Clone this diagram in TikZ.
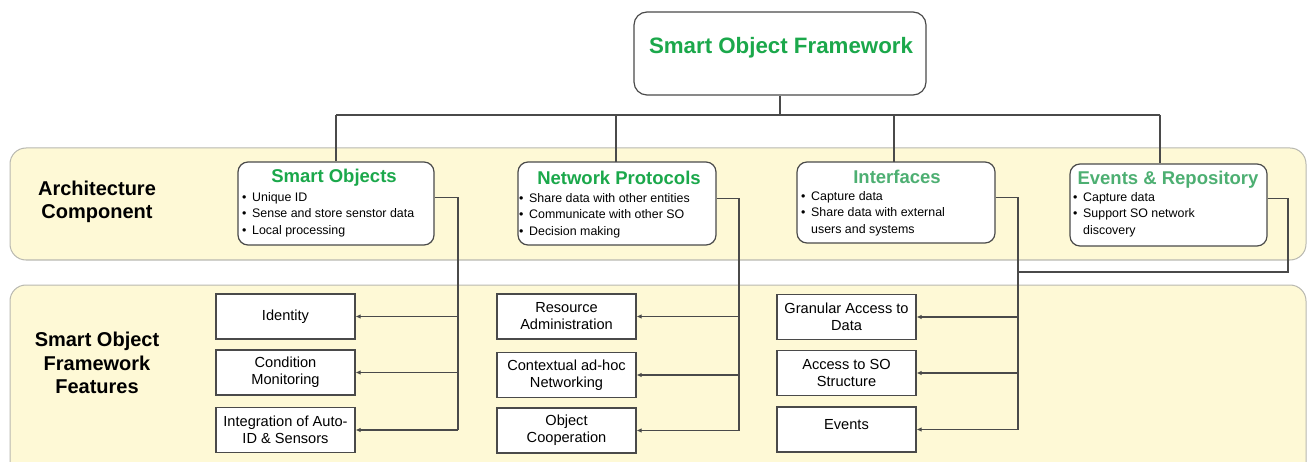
\documentclass[tikz,border=0pt]{standalone}
\usepackage{fontspec}
\setmainfont{Liberation Sans}
\usetikzlibrary{arrows.meta,calc}
\definecolor{bandfill}{HTML}{FEF9D6}
\definecolor{bandline}{HTML}{B8B8B0}
\definecolor{gA}{HTML}{1BA84B}
\definecolor{gB}{HTML}{4DAF72}
\definecolor{ln}{HTML}{4A4A4A}
\newcommand{\bl}{\makebox[10pt][l]{\textbullet}}
\newcommand{\nb}{\hspace*{10pt}}
\begin{document}
\begin{tikzpicture}[x=1pt,y=-1pt,
  band/.style={draw=bandline,fill=bandfill,line width=1pt,rounded corners=16pt},
  topbox/.style={draw=ln,fill=white,line width=1.2pt,rounded corners=13pt,minimum width=292pt,minimum height=83pt,inner sep=0pt},
  compbox/.style={draw=ln,fill=white,line width=1.2pt,rounded corners=10pt,minimum height=83pt,inner sep=0pt},
  featbox/.style={draw=ln,fill=white,line width=1.1pt,minimum width=139pt,minimum height=45pt,inner sep=0pt,align=center,font=\fontsize{14.6}{17}\selectfont},
  ttl/.style={font=\bfseries\fontsize{18.5}{21}\selectfont,inner sep=0pt},
  blt/.style={font=\fontsize{12.4}{16.5}\selectfont,align=left,inner sep=0pt,anchor=north west},
  side/.style={font=\bfseries\fontsize{20}{23.5}\selectfont,align=center,inner sep=0pt},
  conn/.style={draw=ln,line width=1.1pt},
  arr/.style={conn,-{Latex[length=5pt,width=4.5pt]}}]
\useasboundingbox (0,0) rectangle (1308,462);
% bands
\path[band] (10,148) rectangle (1306,260);
\path[band] (10,285) rectangle (1306,490);
\node[side] (lab1) at (97,202) {Architecture\\Component};
\node[side] (lab2) at (97,363) {Smart Object\\Framework\\Features};
% top
\node[topbox] (top) at (780,53.5) {};
\node[font=\bfseries\fontsize{22.3}{26}\selectfont,text=gA,inner sep=0pt] (toptxt) at (781,48) {Smart Object Framework};
% component boxes
\node[compbox,minimum width=196pt] (so) at (336,203.5) {};
\node[compbox,minimum width=198pt] (np) at (617,203.5) {};
\node[compbox,minimum width=198pt,minimum height=81pt] (if) at (896,202.5) {};
\node[compbox,minimum width=197pt,minimum height=82pt] (er) at (1168.5,205) {};
\node[ttl,text=gA] (sot) at (334,178) {Smart Objects};
\node[ttl,text=gA] (npt) at (619,178) {Network Protocols};
\node[ttl,text=gB] (ift) at (897,177) {Interfaces};
\node[ttl,text=gB] (ert) at (1168,180) {Events \& Repository};
\node[blt] (sob) at (242,192) {\bl Unique ID\\\bl Sense and store senstor data\\\bl Local processing};
\node[blt] (npb) at (519,193) {\bl Share data with other entities\\\bl Communicate with other SO\\\bl Decision making};
\node[blt] (ifb) at (801,191) {\bl Capture data\\\bl Share data with external\\\nb users and systems};
\node[blt] (erb) at (1073,192) {\bl Capture data\\\bl Support SO network\\\nb discovery};
% feature boxes
\node[featbox] (f11) at (285.5,316.5) {Identity};
\node[featbox] (f12) at (285.5,372.5) {Condition\\Monitoring};
\node[featbox] (f13) at (285.5,430) {Integration of Auto-\\ID \& Sensors};
\node[featbox] (f21) at (566.5,316.5) {Resource\\Administration};
\node[featbox] (f22) at (566.5,375) {Contextual ad-hoc\\Networking};
\node[featbox] (f23) at (566.5,430.5) {Object\\Cooperation};
\node[featbox] (f31) at (846.5,317) {Granular Access to\\Data};
\node[featbox] (f32) at (846.5,373) {Access to SO\\Structure};
\node[featbox,text depth=10pt] (f33) at (846.5,429.5) {Events};
% top tree
\coordinate (hub) at (780,115);
\coordinate (hl) at (336,115);
\coordinate (hr) at (1160,115);
\draw[conn] (top.south) -- (hub);
\draw[conn] (hl) -- (hr);
\draw[conn] (hl) -- (hl |- so.north);
\draw[conn] (616,115) -- (616,162);
\draw[conn] (894,115) -- (894,162);
\draw[conn] (hr) -- (hr |- er.north);
% buses
\coordinate (bus1) at (458,0);
\coordinate (bus2) at (739,0);
\coordinate (bus3) at (1018,0);
\coordinate (s1) at ($(so.north east)+(0,36)$);
\coordinate (s2) at ($(np.north east)+(0,37)$);
\coordinate (s3) at ($(if.north east)+(0,36)$);
\coordinate (s4) at ($(er.north east)+(0,35)$);
\coordinate (e4) at (1288,272);
\draw[conn] (s1) -- (s1 -| bus1) -- (bus1 |- f13.east);
\draw[conn] (s2) -- (s2 -| bus2) -- (bus2 |- f23.east);
\draw[conn] (s3) -- (s3 -| bus3) -- (bus3 |- f33.east);
\draw[conn] (s4) -- (s4 -| e4) -- (e4) -- (e4 -| bus3);
\foreach \f in {f11,f12,f13} \draw[arr] (bus1 |- \f.east) -- (\f.east);
\foreach \f in {f21,f22,f23} \draw[arr] (bus2 |- \f.east) -- (\f.east);
\foreach \f in {f31,f32,f33} \draw[arr] (bus3 |- \f.east) -- (\f.east);
\end{tikzpicture}
\end{document}
